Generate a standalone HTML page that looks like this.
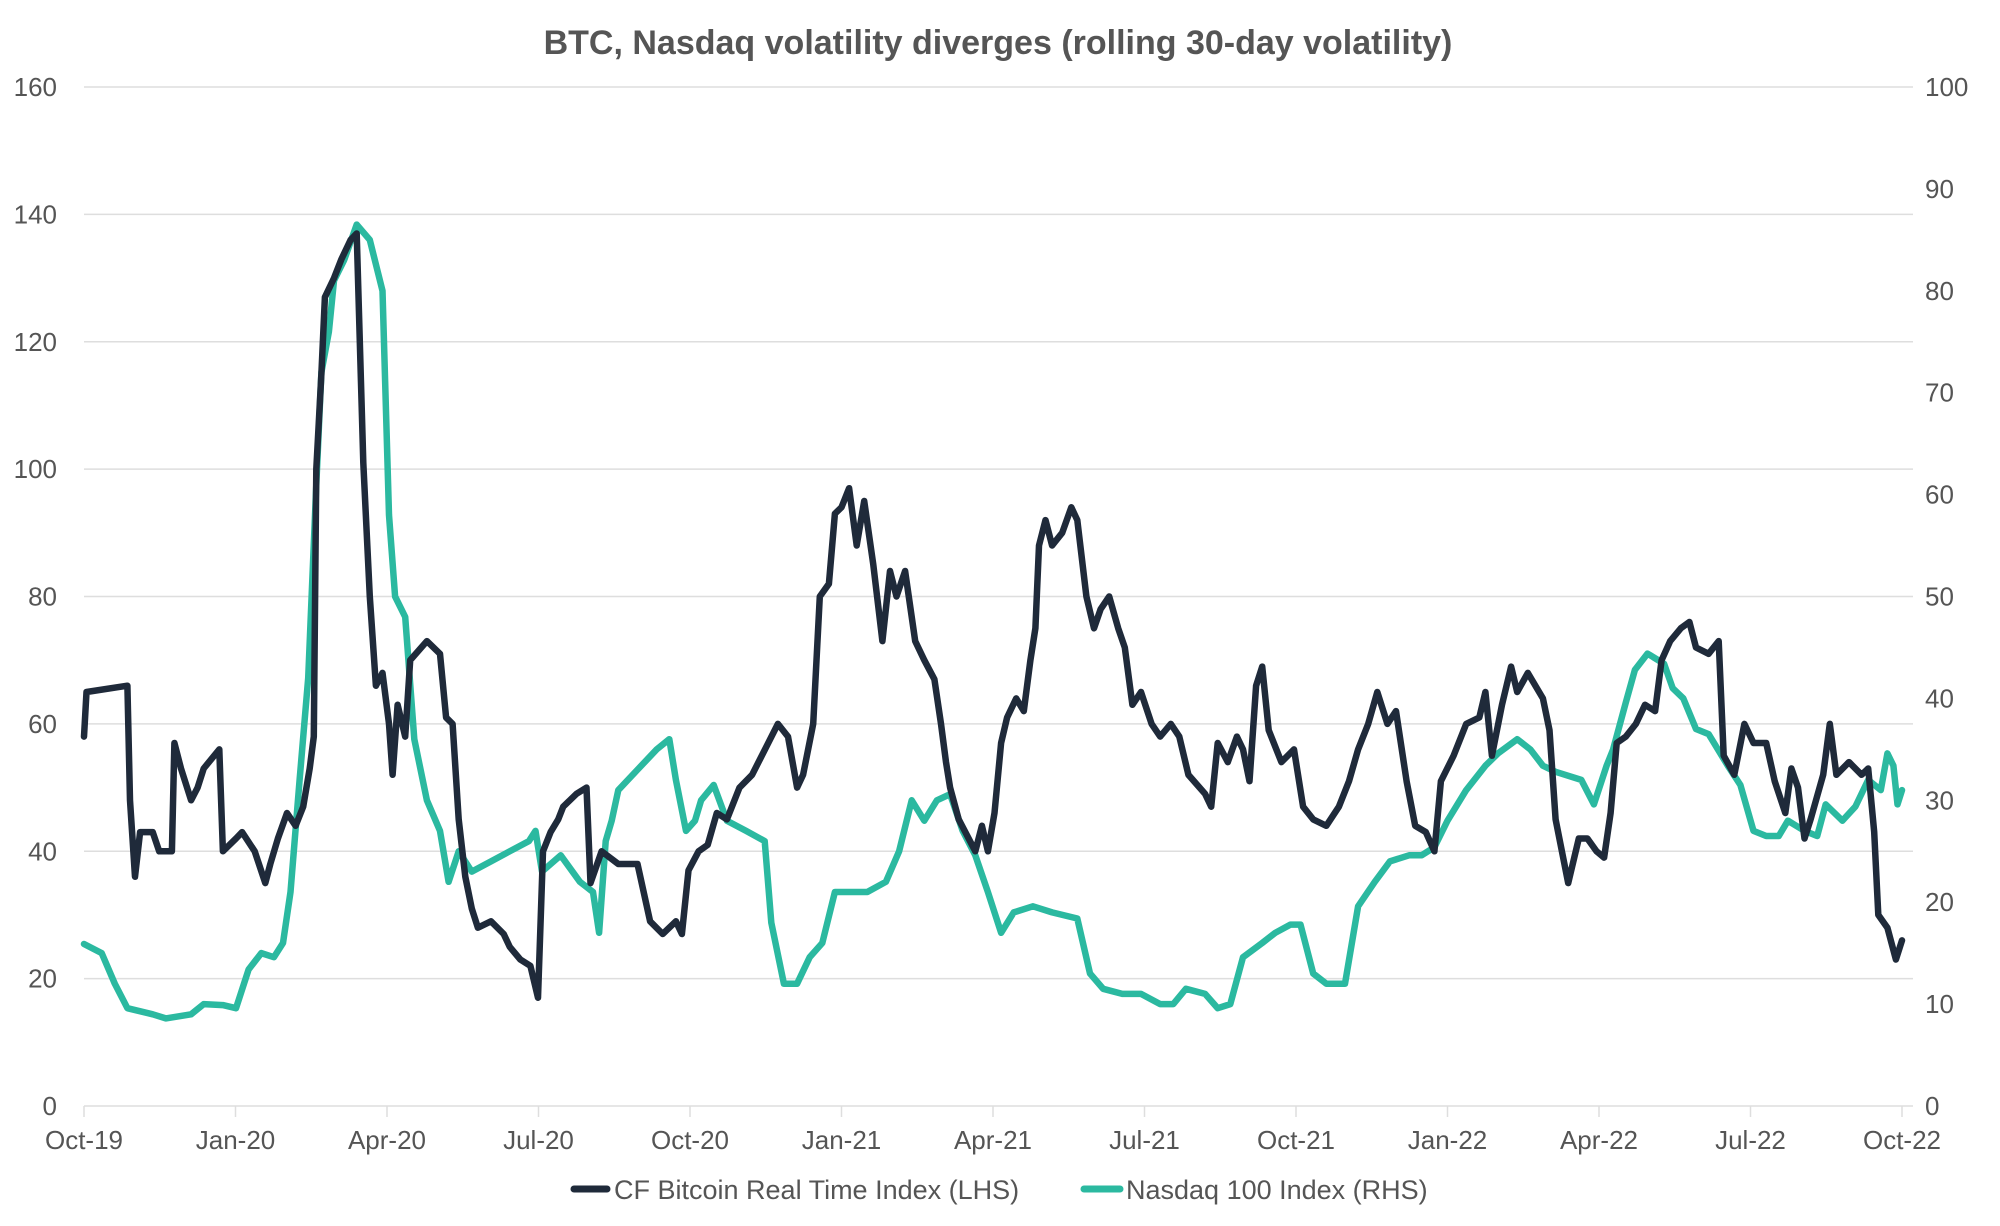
<!DOCTYPE html>
<html><head><meta charset="utf-8">
<style>
html,body{margin:0;padding:0;background:#fff;}
svg{display:block;font-family:"Liberation Sans",Arial,sans-serif;}
</style></head>
<body>
<svg id="chart" width="2000" height="1226" viewBox="0 0 2000 1226" xmlns="http://www.w3.org/2000/svg">
<text x="998" y="54" text-anchor="middle" font-size="34" font-weight="bold" fill="#555">BTC, Nasdaq volatility diverges (rolling 30-day volatility)</text>
<g id="grid"></g>
<g id="axes"></g>
<g id="series"></g>
<g>
<g>
<line x1="574" y1="1189" x2="607" y2="1189" stroke="#1f2a3a" stroke-width="7" stroke-linecap="round"/>
<text x="614" y="1199" font-size="27" fill="#555">CF Bitcoin Real Time Index (LHS)</text>
</g>
<g>
<line x1="1084" y1="1189" x2="1120" y2="1189" stroke="#2bb9a0" stroke-width="7" stroke-linecap="round"/>
<text x="1126" y="1199" font-size="27" fill="#555">Nasdaq 100 Index (RHS)</text>
</g>
</g>
</svg>
<script>
// x positions in months since Oct-19
const xTickLabels = ["Oct-19","Jan-20","Apr-20","Jul-20","Oct-20","Jan-21","Apr-21","Jul-21","Oct-21","Jan-22","Apr-22","Jul-22","Oct-22"];
const leftTicks = [0,20,40,60,80,100,120,140,160];
const rightTicks = [0,10,20,30,40,50,60,70,80,90,100];
const btcMonths = [0,0.05,0.86,0.91,1.01,1.11,1.36,1.49,1.74,1.79,1.92,2.12,2.25,2.37,2.68,2.75,3.01,3.13,3.38,3.59,3.69,3.84,4.02,4.19,4.34,4.47,4.55,4.60,4.70,4.77,4.95,5.10,5.28,5.40,5.53,5.66,5.78,5.91,6.04,6.11,6.21,6.36,6.46,6.79,7.05,7.17,7.30,7.42,7.55,7.68,7.80,8.06,8.31,8.43,8.64,8.84,8.99,9.09,9.24,9.39,9.49,9.75,9.95,10.03,10.25,10.58,10.96,11.21,11.46,11.72,11.84,11.97,12.17,12.35,12.53,12.73,12.98,13.23,13.74,13.94,14.12,14.24,14.44,14.57,14.75,14.87,15.0,15.15,15.30,15.45,15.63,15.81,15.96,16.09,16.26,16.46,16.64,16.84,16.97,17.07,17.15,17.32,17.65,17.78,17.90,18.03,18.16,18.28,18.46,18.61,18.74,18.84,18.91,19.04,19.17,19.37,19.55,19.67,19.85,20.0,20.13,20.30,20.48,20.61,20.76,20.93,21.14,21.31,21.52,21.69,21.87,22.20,22.32,22.45,22.65,22.83,22.95,23.08,23.21,23.33,23.46,23.71,23.96,24.14,24.34,24.6,24.85,25.05,25.23,25.43,25.61,25.81,25.98,26.19,26.36,26.57,26.74,26.87,27.12,27.37,27.63,27.75,27.88,28.08,28.26,28.38,28.59,28.89,29.02,29.14,29.39,29.60,29.77,29.95,30.10,30.23,30.35,30.53,30.73,30.91,31.11,31.24,31.41,31.62,31.79,31.92,32.17,32.37,32.47,32.68,32.88,33.06,33.31,33.48,33.69,33.81,33.94,34.07,34.19,34.44,34.57,34.70,34.95,35.2,35.33,35.45,35.53,35.71,35.88,36];
const btcValues = [58,65,66,48,36,43,43,40,40,57,53,48,50,53,56,40,42,43,40,35,38,42,46,44,47,53,58,100,115,127,130,133,136,137,101,80,66,68,60,52,63,58,70,73,71,61,60,45,36,31,28,29,27,25,23,22,17,40,43,45,47,49,50,35,40,38,38,29,27,29,27,37,40,41,46,45,50,52,60,58,50,52,60,80,82,93,94,97,88,95,85,73,84,80,84,73,70,67,60,54,50,45,40,44,40,46,57,61,64,62,70,75,88,92,88,90,94,92,80,75,78,80,75,72,63,65,60,58,60,58,52,49,47,57,54,58,56,51,66,69,59,54,56,47,45,44,47,51,56,60,65,60,62,51,44,43,40,51,55,60,61,65,55,63,69,65,68,64,59,45,35,42,42,40,39,46,57,58,60,63,62,70,73,75,76,72,71,73,55,52,60,57,57,51,46,53,50,42,45,52,60,52,54,52,53,43,30,28,23,26];
const ndxMonths = [0,0.35,0.61,0.86,1.36,1.62,2.12,2.37,2.75,3.01,3.26,3.51,3.76,3.94,4.09,4.27,4.44,4.60,4.70,4.85,4.95,5.15,5.40,5.66,5.81,5.91,6.04,6.16,6.36,6.54,6.79,7.05,7.22,7.42,7.68,8.06,8.43,8.81,8.94,9.07,9.44,9.82,10.08,10.20,10.33,10.45,10.58,10.96,11.34,11.59,11.72,11.92,12.10,12.22,12.47,12.73,13.11,13.48,13.61,13.86,14.12,14.37,14.62,14.87,15.13,15.51,15.88,16.14,16.39,16.64,16.89,17.15,17.40,17.65,17.90,18.16,18.41,18.79,19.17,19.67,19.92,20.18,20.56,20.93,21.31,21.57,21.82,22.20,22.45,22.70,22.95,23.33,23.59,23.89,24.09,24.34,24.60,24.97,25.23,25.56,25.86,26.24,26.49,26.74,27.0,27.37,27.75,28.0,28.38,28.64,28.89,29.14,29.65,29.90,30.15,30.28,30.53,30.71,30.96,31.29,31.46,31.67,31.92,32.17,32.55,32.80,33.06,33.31,33.56,33.74,34.07,34.32,34.49,34.82,35.08,35.33,35.58,35.71,35.83,35.91,36];
const ndxValues = [15.9,15,12,9.6,9,8.6,9,10,9.9,9.6,13.4,15,14.6,16,21,32,42,61,72,76,81,83,86.5,85,82,80,58,50,48,36,30,27,22,25,23,24,25,26,27,23,24.6,22,21,17,26,28,31,33,35,36,32,27,28,30,31.5,28,27,26,18,12,12,14.6,16,21,21,21,22,25,30,28,30,30.6,27,24.6,21,17,19,19.6,19,18.4,13,11.5,11,11,10,10,11.5,11,9.6,10,14.6,16,17,17.8,17.8,13,12,12,19.6,22,24,24.6,24.6,25.4,28,31,33.4,34.6,36,35,33.4,32.8,32,29.6,33.4,35,39.6,42.8,44.4,43.4,41,40,37,36.5,33.4,31.5,27,26.5,26.5,28,27,26.5,29.6,28,29.4,32,31,34.6,33.4,29.6,31];

const X0=84, X1=1902, YT=87, YB=1106, GR=1913;
const xs = m => X0 + (X1-X0)*m/36;
const yL = v => YB - (YB-YT)*v/160;
const yR = v => YB - (YB-YT)*v/100;
const NS="http://www.w3.org/2000/svg";
function mk(tag, attrs, parent){const e=document.createElementNS(NS,tag);for(const k in attrs)e.setAttribute(k,attrs[k]);parent.appendChild(e);return e;}
const grid=document.getElementById('grid'), axes=document.getElementById('axes'), series=document.getElementById('series');
leftTicks.forEach((v,i)=>{
  const y=yL(v);
  const g=mk('line',{x1:X0,x2:GR,y1:y,y2:y,stroke:'#dedede','stroke-width':1.5},grid);
  
  
  const t=mk('text',{x:57,y:y+9,'text-anchor':'end','font-size':26,fill:'#555'},axes);
  t.textContent=v;
  
  
});
rightTicks.forEach(v=>{
  const t=mk('text',{x:1925,y:yR(v)+9,'font-size':26,fill:'#555'},axes);
  t.textContent=v;
  
  
});
xTickLabels.forEach((lab,i)=>{
  const x=xs(i*3);
  const tk=mk('line',{x1:x,x2:x,y1:YB,y2:YB+11,stroke:'#dedede','stroke-width':1.5},axes);
  
  
  const t=mk('text',{x:x,y:YB+43,'text-anchor':'middle','font-size':26,fill:'#555'},axes);
  t.textContent=lab;
  
  
});
function line(ms,vs,yf,color,name){
  const pts=ms.map((m,i)=>xs(m).toFixed(1)+','+yf(vs[i]).toFixed(1)).join(' ');
  const p=mk('polyline',{points:pts,fill:'none',stroke:color,'stroke-width':6.5,'stroke-linejoin':'round','stroke-linecap':'round'},series);
  
  
}
line(ndxMonths,ndxValues,yR,'#2bb9a0','nasdaq-line');
line(btcMonths,btcValues,yL,'#1f2a3a','btc-line');
</script>
</body></html>
